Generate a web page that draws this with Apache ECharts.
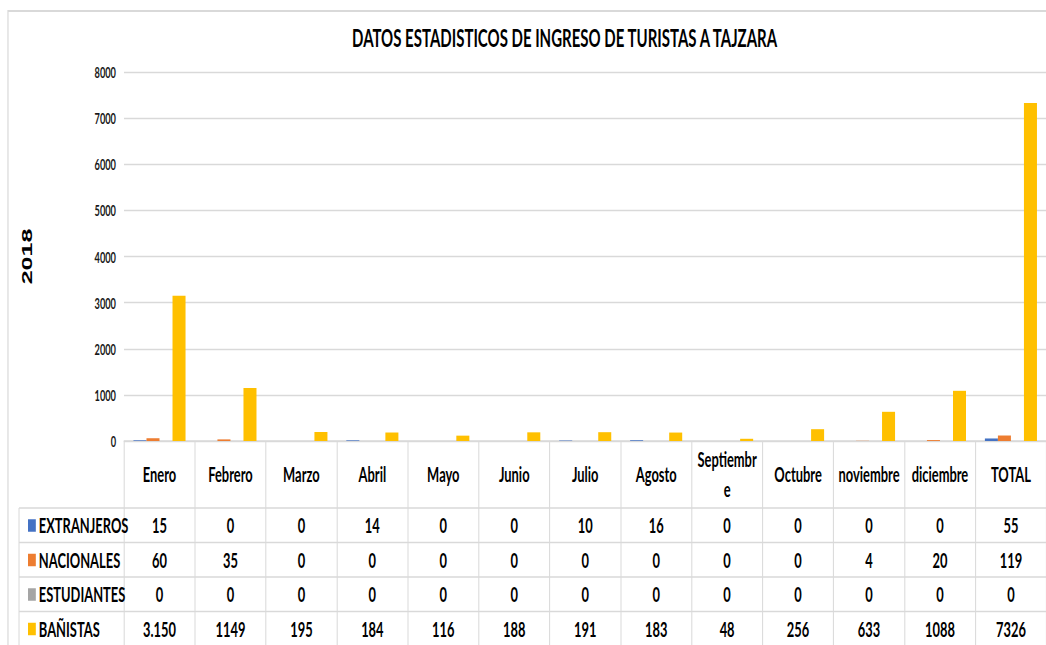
<!DOCTYPE html>
<html>
<head>
<meta charset="utf-8">
<script src="https://cdn.jsdelivr.net/npm/echarts@6/dist/echarts.min.js"></script>
<style>
  html, body { margin: 0; padding: 0; background: #fff; overflow: hidden; width: 1046px; height: 645px; }
  /* the sheet is laid out wide and squeezed horizontally, like the narrow spreadsheet export */
  #chart { width: 1744px; height: 645px; transform: scaleX(0.6); transform-origin: 0 0; }
</style>
</head>
<body>
<div id="chart"></div>
<script>
// ---- data ----
const meses = ['Enero', 'Febrero', 'Marzo', 'Abril', 'Mayo', 'Junio', 'Julio', 'Agosto',
               'Septiembre', 'Octubre', 'noviembre', 'diciembre', 'TOTAL'];
const extranjeros = [15, 0, 0, 14, 0, 0, 10, 16, 0, 0, 0, 0, 55];
const nacionales  = [60, 35, 0, 0, 0, 0, 0, 0, 0, 0, 4, 20, 119];
const estudiantes = [0, 0, 0, 0, 0, 0, 0, 0, 0, 0, 0, 0, 0];
const banistas    = [3150, 1149, 195, 184, 116, 188, 191, 183, 48, 256, 633, 1088, 7326];
const grupos      = ['EXTRANJEROS', 'NACIONALES', 'ESTUDIANTES', 'BAÑISTAS'];
const yMax = 8000;
const yStep = 1000;
const anio = '2018';
const titulo = 'DATOS ESTADISTICOS DE INGRESO DE TURISTAS A TAJZARA';

// ---- styling ----
const FONT = 'Lato';
const colores = ['#4472C4', '#ED7D31', '#A5A5A5', '#FFC000'];
const lineaTabla = '#D9D9D9';
const gridLeft = 206.7, gridTop = 72, gridBottom = 204, gridWidth = 1538.3;
const headerH = 67, rowH = 34.5;
const baseY = 645 - gridBottom;

// the January bather count is printed with a thousands point in the sheet
function celda(v, i, serie) {
  if (serie === 3 && i === 0) return String(v).replace(/\B(?=(\d{3})+$)/g, '.');
  return String(v);
}

const filas = [extranjeros, nacionales, estudiantes, banistas];

const series = grupos.map((g, k) => ({
  name: g,
  type: 'bar',
  data: filas[k],
  xAxisIndex: 0,
  yAxisIndex: 0,
  barWidth: 21.7,
  barGap: '0%',
  itemStyle: { color: colores[k] },
  emphasis: { disabled: true }
}));

const textoTabla = { fontFamily: FONT, fontWeight: 'bold', fontSize: 21.5, color: '#000' };

// one category axis per table row, each printing its row of values
const ejesFila = filas.map((fila, k) => ({
  type: 'category',
  gridIndex: 0,
  position: 'bottom',
  data: meses,
  axisLine: { show: false },
  axisTick: { show: false },
  axisLabel: Object.assign({
    interval: 0,
    margin: headerH + rowH * k + rowH / 2,
    verticalAlign: 'middle',
    formatter: (v, i) => celda(fila[i], i, k)
  }, textoTabla)
}));

const graficos = [
  // chart frame
  { type: 'rect', shape: { x: 13.3, y: 11, width: 2000, height: 1000 },
    style: { fill: null, stroke: '#D9D9D9', lineWidth: 2 }, silent: true },
  // left edge of the legend column
  { type: 'line', shape: { x1: 31.7, y1: baseY + headerH, x2: 31.7, y2: 660 },
    style: { stroke: lineaTabla, lineWidth: 1.7 }, silent: true }
];
for (let k = 0; k < filas.length; k++) {
  const y = baseY + headerH + rowH * k;
  graficos.push({ type: 'line', shape: { x1: 31.7, y1: y, x2: 1760, y2: y },
    style: { stroke: lineaTabla, lineWidth: 1.3 }, silent: true });
}

const option = {
  backgroundColor: '#fff',
  animation: false,
  color: colores,
  title: {
    text: titulo,
    left: 936,
    top: 19,
    textAlign: 'center',
    textStyle: { fontFamily: FONT, fontWeight: 'bold', fontSize: 25, color: '#000', lineHeight: 26 }
  },
  legend: {
    orient: 'vertical',
    left: 41.7,
    top: baseY + headerH + 1.5,
    itemWidth: 13,
    itemHeight: 12.5,
    itemGap: 12.5,
    icon: 'rect',
    selectedMode: false,
    data: grupos,
    textStyle: Object.assign({ lineHeight: 22 }, textoTabla)
  },
  grid: { left: gridLeft, top: gridTop, width: gridWidth, bottom: gridBottom, containLabel: false },
  xAxis: [{
    type: 'category',
    gridIndex: 0,
    position: 'bottom',
    data: meses,
    axisLine: { show: true, lineStyle: { color: lineaTabla, width: 1.5 } },
    axisTick: { show: true, length: 215, lineStyle: { color: lineaTabla, width: 1.7 } },
    axisLabel: Object.assign({
      interval: 0,
      margin: headerH / 2,
      verticalAlign: 'middle',
      width: 106,
      overflow: 'breakAll',
      lineHeight: 30
    }, textoTabla)
  }].concat(ejesFila),
  yAxis: {
    type: 'value',
    min: 0,
    max: yMax,
    interval: yStep,
    name: anio,
    nameLocation: 'middle',
    nameRotate: 90,
    nameGap: 150,
    nameTextStyle: { fontFamily: 'Liberation Sans', fontWeight: 'bold', fontSize: 25, color: '#000' },
    axisLine: { show: false },
    axisTick: { show: false },
    splitLine: { lineStyle: { color: '#D9D9D9', width: 1.4 } },
    axisLabel: {
      fontFamily: FONT, fontWeight: 'bold', fontSize: 15.4, color: '#1a1a1a', margin: 13.4,
      formatter: v => String(v)
    }
  },
  graphic: graficos,
  series: series
};

const chart = echarts.init(document.getElementById('chart'), null, { renderer: 'svg' });
chart.setOption(option);
</script>
</body>
</html>
